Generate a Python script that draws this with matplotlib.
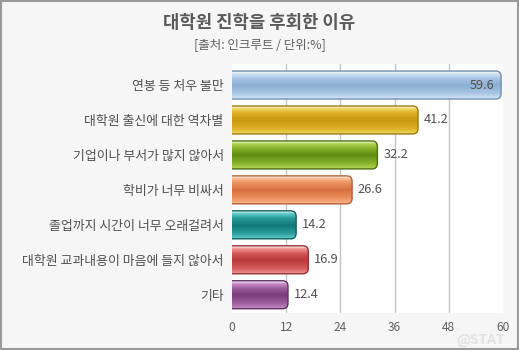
import numpy as np
import matplotlib
matplotlib.use("Agg")
import matplotlib.pyplot as plt
from matplotlib.patches import FancyBboxPatch, Rectangle
from matplotlib.colors import LinearSegmentedColormap

plt.rcParams['font.family'] = ['Noto Sans CJK KR', 'DejaVu Sans']

title = "대학원 진학을 후회한 이유"
subtitle = "[출처: 인크루트 / 단위:%]"
categories = ["연봉 등 처우 불만", "대학원 출신에 대한 역차별", "기업이나 부서가 많지 않아서",
              "학비가 너무 비싸서", "졸업까지 시간이 너무 오래걸려서",
              "대학원 교과내용이 마음에 들지 않아서", "기타"]
values = [59.6, 41.2, 32.2, 26.6, 14.2, 16.9, 12.4]
ticks = [0, 12, 24, 36, 48, 60]
# (light, base, dark, edge) per bar
palettes = [
    ("#d6e6f6", "#a9c6e4", "#8cafd3", "#6f8fb2"),
    ("#f4d860", "#dcae22", "#c79810", "#9a7a10"),
    ("#b4d858", "#86b22c", "#5f8c12", "#4e7010"),
    ("#fbb890", "#ec915e", "#d87040", "#b06038"),
    ("#64cccc", "#2a9c9a", "#107876", "#0e5e5c"),
    ("#f09898", "#d45a5a", "#b83a3a", "#963232"),
    ("#cc90cc", "#9c5e9c", "#7a3c7a", "#5e3060"),
]

fig = plt.figure(figsize=(5.19, 3.5), dpi=100, facecolor="#f6f6f6")
fig.patches.append(Rectangle((0.001, 0.002), 0.997, 0.995, transform=fig.transFigure,
                             fill=False, edgecolor="#9a9a9a", linewidth=1.5))
ax = fig.add_axes([0.447, 0.106, 0.522, 0.711])
ax.set_facecolor("white")

n = len(categories)
ypos = np.arange(n)
h = 0.8
ax.set_xlim(0, 60)
ax.set_ylim(n - 0.5 + 0.02, -0.5 - 0.1)

for t in ticks[1:-1]:
    ax.axvline(t, color="#c4c4c4", linewidth=1, zorder=0)

for i, (v, pal) in enumerate(zip(values, palettes)):
    light, base, dark, edge = pal
    cmap = LinearSegmentedColormap.from_list(
        "g", [(0, "#ffffff"), (0.08, light), (0.25, base), (0.5, dark), (0.8, base), (1.0, light)])
    grad = np.linspace(0, 1, 64).reshape(-1, 1)
    y0 = ypos[i] - h / 2
    patch = FancyBboxPatch((-2, y0), v + 2, h,
                           boxstyle="round,pad=0,rounding_size=1.2",
                           mutation_aspect=0.13, facecolor="none",
                           edgecolor=edge, linewidth=1.0, zorder=3)
    ax.add_patch(patch)
    im = ax.imshow(grad, cmap=cmap, aspect="auto", extent=[-2, v, y0 + h, y0],
                   zorder=2, interpolation="bilinear")
    im.set_clip_path(patch)
    if v > 55:
        ax.text(v - 1.5, ypos[i], f"{v}", ha="right", va="center", fontsize=9.2,
                color="#505050", zorder=4)
    else:
        ax.text(v + 1.3, ypos[i], f"{v}", ha="left", va="center", fontsize=9.2,
                color="#505050", zorder=4)

ax.set_yticks(ypos)
ax.set_yticklabels(categories, fontsize=9.3, color="#505050")
ax.set_xticks(ticks)
ax.set_xticklabels([str(t) for t in ticks], fontsize=8.6, color="#606060")
ax.tick_params(length=0, pad=6)
ax.tick_params(axis="x", pad=6)
for s in ax.spines.values():
    s.set_visible(False)

fig.text(0.5, 0.934, title, ha="center", va="center", fontsize=12.8,
         fontweight="bold", color="#5a5a5a")
fig.text(0.5, 0.874, subtitle, ha="center", va="center", fontsize=9, color="#606060")
fig.text(0.925, 0.028, "@STAT", ha="center", va="center", fontsize=10, fontweight="bold",
         color="#e2e2e2", zorder=5)

fig.savefig("out.png", dpi=100, facecolor=fig.get_facecolor())
